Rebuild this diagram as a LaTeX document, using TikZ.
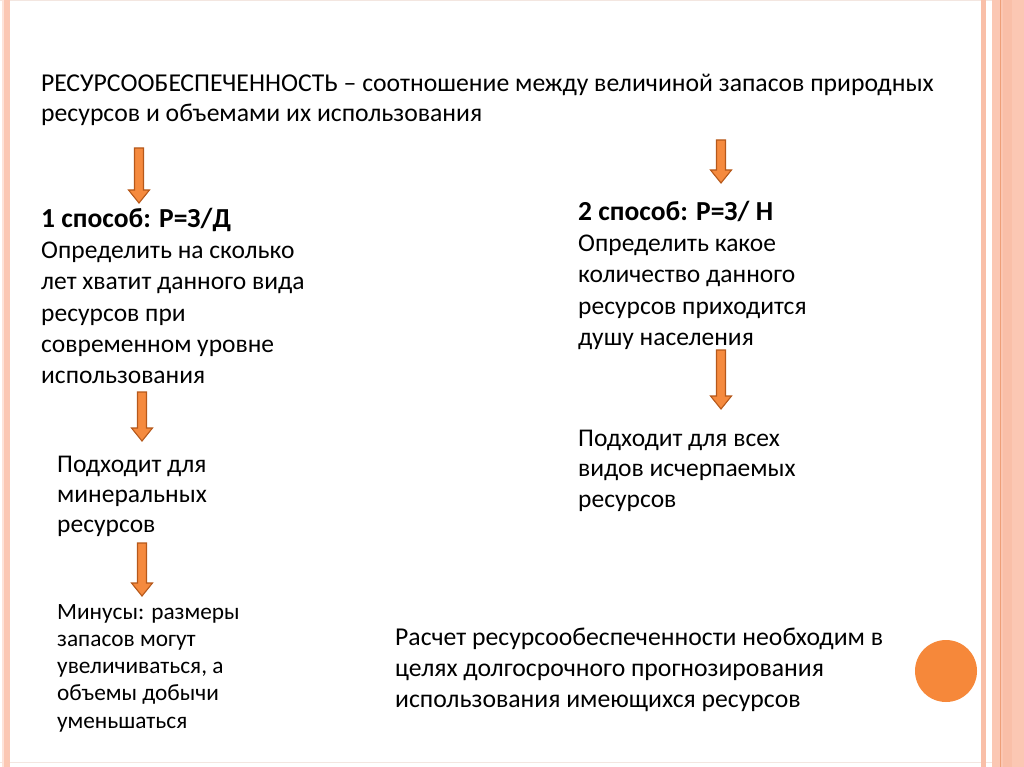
\documentclass[tikz,border=0pt]{standalone}
\usepackage{fontspec}
\setmainfont{Carlito}
\usetikzlibrary{calc}
\definecolor{arrfill}{HTML}{F58A3E}
\definecolor{arrdraw}{HTML}{B6581A}
\definecolor{stripe}{HTML}{FBC7B3}
\definecolor{stripemid}{HTML}{F9BFA8}
\definecolor{stripedark}{HTML}{EE9F78}
\definecolor{circ}{HTML}{F6883A}
\definecolor{edge}{HTML}{F3E6E0}
\tikzset{
  txt/.style={anchor=base west, inner sep=0pt, text=black},
  big/.style={txt, font=\fontsize{25.5pt}{31pt}\selectfont},
  small/.style={txt, font=\fontsize{23.3pt}{27pt}\selectfont},
  blockarrow/.style={fill=arrfill, draw=arrdraw, line width=1.1pt, line join=miter}
}
\newcommand\barrow[2]{%
  \draw[blockarrow] ($(#1)+(-4.5,0)$) -- ($(#1)+(4.5,0)$) -- ($(#2)+(4.5,-13)$)
    -- ($(#2)+(10.5,-13)$) -- (#2) -- ($(#2)+(-10.5,-13)$) -- ($(#2)+(-4.5,-13)$) -- cycle;}
\newcommand\boldhead[1]{\fontsize{27.5pt}{31pt}\selectfont\bfseries #1}
\begin{document}
\begin{tikzpicture}[x=1pt,y=-1pt]
\useasboundingbox (0,0) rectangle (1024,767);
\fill[white] (0,0) rectangle (1024,767);
% frame
\fill[edge] (0,0) rectangle (1024,1.5);
\fill[edge] (0,761.5) rectangle (1024,763);
\fill[stripe!50] (2,0) rectangle (4,767);
\fill[stripe] (4,0) rectangle (10,767);
\fill[stripemid] (981,0) rectangle (985.5,767);
\fill[stripe] (992,0) rectangle (1024,767);
\fill[stripemid] (1003,0) rectangle (1012,767);
\fill[stripedark] (1000,0) rectangle (1001.3,767);
% texts
\node[txt, font=\fontsize{25.7pt}{30pt}\selectfont] (title) at (41,92) {\vtop{\baselineskip=30pt
  \hbox{РЕСУРСООБЕСПЕЧЕННОСТЬ – соотношение между величиной запасов природных}
  \hbox{ресурсов и объемами их использования}}};
\node[big] (m1) at (41,228) {\vtop{\baselineskip=31pt
  \hbox{\boldhead{1 способ: Р=З/Д}}
  \hbox{Определить на сколько}
  \hbox{лет хватит данного вида}
  \hbox{ресурсов при}
  \hbox{современном уровне}
  \hbox{использования}}};
\node[big] (m2) at (578,221) {\vtop{\baselineskip=31pt
  \hbox{\boldhead{2 способ: Р=З/ Н}}
  \hbox{Определить какое}
  \hbox{количество данного}
  \hbox{ресурсов приходится}
  \hbox{душу населения}}};
\node[big] (r1) at (57,472) {\vtop{\baselineskip=30pt
  \hbox{Подходит для}
  \hbox{минеральных}
  \hbox{ресурсов}}};
\node[big] (r2) at (578,446) {\vtop{\baselineskip=30.5pt
  \hbox{Подходит для всех}
  \hbox{видов исчерпаемых}
  \hbox{ресурсов}}};
\node[small] (minus) at (57,619) {\vtop{\baselineskip=27.3pt
  \hbox{Минусы: размеры}
  \hbox{запасов могут}
  \hbox{увеличиваться, а}
  \hbox{объемы добычи}
  \hbox{уменьшаться}}};
\node[txt, font=\fontsize{25.7pt}{31pt}\selectfont] (calc) at (395,645) {\vtop{\baselineskip=31pt
  \hbox{Расчет ресурсообеспеченности необходим в}
  \hbox{целях долгосрочного прогнозирования}
  \hbox{использования имеющихся ресурсов}}};
% arrows
\coordinate (a1s) at (139,148); \coordinate (a1e) at (139,203);
\coordinate (a2s) at (721,140); \coordinate (a2e) at (721,183);
\coordinate (a3s) at (142,392); \coordinate (a3e) at (142,441);
\coordinate (a4s) at (142,543); \coordinate (a4e) at (142,596);
\coordinate (a5s) at (721,350); \coordinate (a5e) at (721,409);
\barrow{a1s}{a1e}
\barrow{a2s}{a2e}
\barrow{a3s}{a3e}
\barrow{a4s}{a4e}
\barrow{a5s}{a5e}
% circle
\fill[circ] (946,671) circle (31);
\end{tikzpicture}
\end{document}
